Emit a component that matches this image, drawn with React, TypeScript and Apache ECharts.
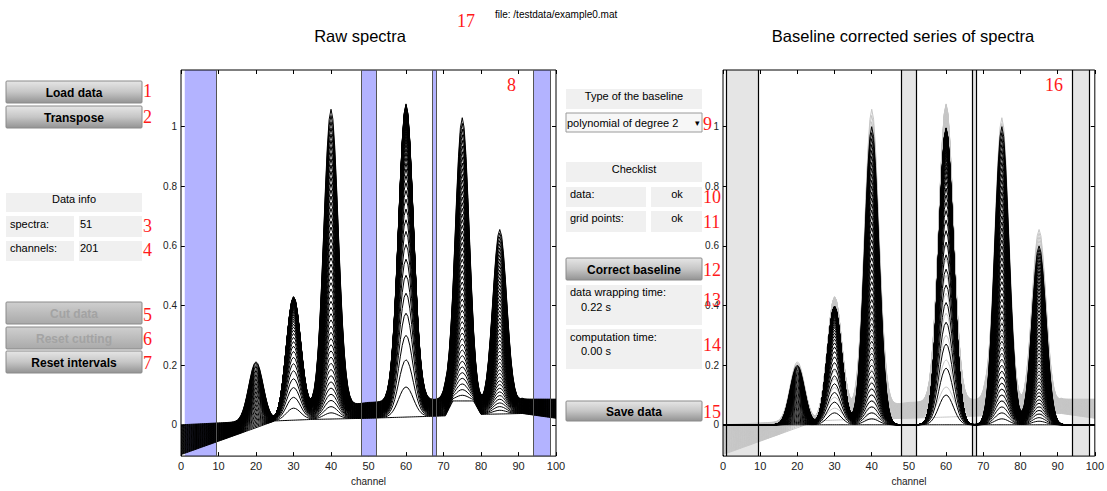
import React, { useEffect, useRef } from "react";
import * as echarts from "echarts";

// ---------- data ----------
const channels: number[] = [];
for (let i = 0; i <= 200; i++) channels.push(i / 2); // 201 channels, 0..100

const peakCenters = [20, 30, 40, 60, 75, 85];
const peakHeights = [0.2, 0.4, 1.0, 1.0, 1.0, 0.6];
const peakSigmas = [1.9, 1.9, 1.9, 1.95, 1.9, 1.85];
const peakProfile = ["lin", "geo", "lin", "geo", "lin", "lin"];

// scaling of each of the 51 spectra (two observed patterns)
const factorsGeo = [
  0, 0.1, 0.19, 0.271, 0.344, 0.41, 0.469, 0.522, 0.57, 0.613, 0.651, 0.686, 0.718,
  0.746, 0.771, 0.794, 0.815, 0.833, 0.85, 0.865, 0.878, 0.891, 0.902, 0.911, 0.92,
  0.928, 0.935, 0.942, 0.948, 0.953, 0.958, 0.962, 0.966, 0.969, 0.972, 0.975, 0.977,
  0.98, 0.982, 0.984, 0.985, 0.987, 0.988, 0.989, 0.99, 0.991, 0.992, 0.993, 0.994,
  0.995, 0.996,
];
const factorsLin = [
  0, 0.02, 0.04, 0.06, 0.08, 0.1, 0.12, 0.14, 0.16, 0.18, 0.2, 0.22, 0.24, 0.26, 0.28,
  0.3, 0.32, 0.34, 0.36, 0.38, 0.4, 0.42, 0.44, 0.46, 0.48, 0.5, 0.52, 0.54, 0.56, 0.58,
  0.6, 0.62, 0.64, 0.66, 0.68, 0.7, 0.72, 0.74, 0.76, 0.78, 0.8, 0.82, 0.84, 0.86, 0.88,
  0.9, 0.92, 0.94, 0.96, 0.98, 1.0,
];

// baseline envelopes of the raw spectra (spectrum with smallest / largest peaks)
const baseKnotsX = [0, 16, 25, 35, 50, 70.5, 72.5, 78, 80, 88, 91, 100];
const baseLow = [-0.1, -0.028, 0.013, 0.018, 0.022, 0.03, 0.08, 0.08, 0.035, 0.037, 0.038, 0.022];
const baseHigh = [0.0, 0.01, 0.013, 0.05, 0.075, 0.086, 0.03, 0.03, 0.055, 0.055, 0.086, 0.086];

// selected grid intervals
const intervals = [
  [1, 9.5],
  [48, 52],
  [67, 68],
  [94, 98.5],
];

const yTicks = [0, 0.2, 0.4, 0.6, 0.8, 1];

// ---------- build spectra ----------
function envelope(vals: number[], x: number) {
  for (let i = 0; i < baseKnotsX.length - 1; i++) {
    const a = baseKnotsX[i], b = baseKnotsX[i + 1];
    if (x >= a && x <= b) return vals[i] + ((vals[i + 1] - vals[i]) * (x - a)) / (b - a);
  }
  return vals[vals.length - 1];
}

const rawSpectra: number[][][] = [];
const corrSpectra: number[][][] = [];
for (let k = 0; k < factorsLin.length; k++) {
  const t = k / (factorsLin.length - 1);
  const raw: number[][] = [];
  const cor: number[][] = [];
  for (const x of channels) {
    let p = 0;
    for (let i = 0; i < peakCenters.length; i++) {
      const f = peakProfile[i] === "geo" ? factorsGeo[k] : factorsLin[k];
      const d = (x - peakCenters[i]) / peakSigmas[i];
      p += peakHeights[i] * f * Math.exp(-0.5 * d * d);
    }
    const lo = envelope(baseLow, x), hi = envelope(baseHigh, x);
    const b = lo + t * (hi - lo);
    cor.push([x, +p.toFixed(5)]);
    raw.push([x, +(p + b).toFixed(5)]);
  }
  rawSpectra.push(raw);
  corrSpectra.push(cor);
}

// ---------- helpers ----------
const SANS = '"Liberation Sans", Arial, Helvetica, sans-serif';

function axesFor(gi: number) {
  const common = {
    gridIndex: gi,
    type: "value" as const,
    splitLine: { show: false },
    axisLine: { show: false, onZero: false },
  };
  const tick = { inside: true, length: 4, lineStyle: { color: "#000" } };
  const xa = [
    {
      ...common,
      min: 0,
      max: 100,
      interval: 10,
      position: "bottom",
      axisTick: tick,
      axisLabel: { fontSize: 11, color: "#222", margin: 4, fontFamily: SANS },
      name: "channel",
      nameLocation: "middle",
      nameGap: 18,
      nameTextStyle: { fontSize: 10, color: "#222", fontFamily: SANS },
    },
    {
      ...common,
      min: 0,
      max: 100,
      interval: 10,
      position: "top",
      axisTick: tick,
      axisLabel: { show: false },
    },
  ];
  const ya = [
    {
      ...common,
      min: -0.105,
      max: 1.19,
      position: "left",
      axisTick: { ...tick, customValues: yTicks },
      axisLabel: {
        customValues: yTicks,
        fontSize: 10,
        color: "#222",
        margin: 4,
        fontFamily: SANS,
        formatter: (v: number) => String(Math.round(v * 10) / 10),
      },
    },
    {
      ...common,
      min: -0.105,
      max: 1.19,
      position: "right",
      axisTick: { ...tick, customValues: yTicks },
      axisLabel: { show: false, customValues: yTicks },
    },
  ];
  return { xa, ya };
}

function bandSeries(gi: number, fill: string, edge: string, edgeW: number, skipFirstEdge: boolean) {
  const lines: any[] = [];
  intervals.forEach((iv, idx) => {
    if (!(skipFirstEdge && idx === 0)) lines.push({ xAxis: iv[0] });
    lines.push({ xAxis: iv[1] });
  });
  return {
    type: "line",
    xAxisIndex: gi * 2,
    yAxisIndex: gi * 2,
    data: [],
    silent: true,
    z: 1,
    markArea: {
      silent: true,
      itemStyle: { color: fill, borderWidth: 0 },
      data: intervals.map((iv) => [{ xAxis: iv[0] }, { xAxis: iv[1] }]),
    },
    markLine: {
      silent: true,
      symbol: ["none", "none"],
      label: { show: false },
      lineStyle: { color: edge, width: edgeW, type: "solid" },
      data: lines,
    },
  };
}

function spectraSeries(gi: number, list: number[][][], color: string, z: number, width: number) {
  return list.map((d) => ({
    type: "line",
    xAxisIndex: gi * 2,
    yAxisIndex: gi * 2,
    data: d,
    showSymbol: false,
    symbol: "none",
    silent: true,
    z,
    lineStyle: { color, width },
  }));
}

function gradButton(x: number, y: number, w: number, h: number, text: string, disabled = false) {
  return {
    type: "group",
    z: 20,
    children: [
      {
        type: "rect",
        shape: { x, y, width: w, height: h, r: 1 },
        style: {
          fill: new echarts.graphic.LinearGradient(0, 0, 0, 1, disabled
            ? [
                { offset: 0, color: "#cfcfcf" },
                { offset: 1, color: "#a9a9a9" },
              ]
            : [
                { offset: 0, color: "#e6e6e6" },
                { offset: 0.5, color: "#c6c6c6" },
                { offset: 1, color: "#939393" },
              ]),
          stroke: "#8a8a8a",
          lineWidth: 1,
        },
      },
      {
        type: "text",
        x: x + w / 2,
        y: y + h / 2 + 0.5,
        style: {
          text,
          font: `bold 12px ${SANS}`,
          fill: disabled ? "#a3a3a3" : "#000",
          align: "center",
          verticalAlign: "middle",
        },
      },
    ],
  };
}

function infoBox(x: number, y: number, w: number, h: number) {
  return { type: "rect", z: 20, shape: { x, y, width: w, height: h }, style: { fill: "#f0f0f0" } };
}

function txt(x: number, y: number, text: string, align = "left", font = `11px ${SANS}`, fill = "#000") {
  return { type: "text", z: 21, x, y, style: { text, font, fill, align, verticalAlign: "middle" } };
}

function redNum(x: number, y: number, text: string) {
  return {
    type: "text",
    z: 30,
    x,
    y,
    style: { text, font: '18px "Liberation Serif", "DejaVu Serif", serif', fill: "#ff1a1a", align: "left", verticalAlign: "middle" },
  };
}

export default function App() {
  const ref = useRef<HTMLDivElement>(null);
  useEffect(() => {
    if (!ref.current) return;
    const chart = echarts.init(ref.current, undefined, { renderer: "svg" });
    const a0 = axesFor(0);
    const a1 = axesFor(1);

    const graphic: any[] = [
      // titles
      txt(360, 36, "Raw spectra", "center", `16.5px ${SANS}`),
      txt(903, 36, "Baseline corrected series of spectra", "center", `16.5px ${SANS}`),
      txt(495, 14, "file: /testdata/example0.mat", "left", `10px ${SANS}`),
      // left panel
      gradButton(6, 81, 136, 22, "Load data"),
      gradButton(6, 106, 136, 22, "Transpose"),
      infoBox(6, 193, 136, 19),
      txt(74, 199, "Data info", "center"),
      infoBox(6, 216, 68, 21),
      infoBox(79, 216, 63, 21),
      txt(10, 224, "spectra:"),
      txt(80, 224, "51"),
      infoBox(6, 241, 68, 20),
      infoBox(79, 241, 63, 20),
      txt(10, 248, "channels:"),
      txt(80, 248, "201"),
      gradButton(6, 302, 136, 22, "Cut data", true),
      gradButton(6, 327, 136, 22, "Reset cutting", true),
      gradButton(6, 351, 136, 22, "Reset intervals"),
      // middle panel
      infoBox(566, 89, 136, 20),
      txt(634, 96, "Type of the baseline", "center"),
      {
        type: "rect",
        z: 20,
        shape: { x: 566, y: 113, width: 136, height: 19 },
        style: { fill: "#f7f7f7", stroke: "#9a9a9a", lineWidth: 1 },
      },
      txt(567, 123, "polynomial of degree 2"),
      txt(697, 123, "▾", "center", `9px ${SANS}`),
      infoBox(566, 162, 136, 20),
      txt(634, 169, "Checklist", "center"),
      infoBox(566, 187, 80, 20),
      infoBox(651, 187, 51, 20),
      txt(570, 194, "data:"),
      txt(677, 194, "ok", "center"),
      infoBox(566, 211, 80, 21),
      infoBox(651, 211, 51, 21),
      txt(570, 218, "grid points:"),
      txt(677, 218, "ok", "center"),
      gradButton(566, 258, 136, 22, "Correct baseline"),
      infoBox(566, 285, 136, 40),
      txt(570, 292, "data wrapping time:"),
      txt(581, 307, "0.22 s"),
      infoBox(566, 329, 136, 40),
      txt(570, 337, "computation time:"),
      txt(581, 351, "0.00 s"),
      gradButton(566, 401, 136, 20, "Save data"),
      // red annotations
      redNum(457, 21, "17"),
      redNum(507, 85, "8"),
      redNum(1045, 85, "16"),
      redNum(143, 91, "1"),
      redNum(143, 117, "2"),
      redNum(143, 226, "3"),
      redNum(143, 250, "4"),
      redNum(143, 315, "5"),
      redNum(143, 339, "6"),
      redNum(143, 363, "7"),
      redNum(703, 124, "9"),
      redNum(703, 197, "10"),
      redNum(703, 222, "11"),
      redNum(703, 270, "12"),
      redNum(703, 300, "13"),
      redNum(703, 345, "14"),
      redNum(703, 412, "15"),
    ];

    chart.setOption({
      animation: false,
      backgroundColor: "#fff",
      grid: [
        { left: 181, top: 70, width: 375, height: 391, show: true, borderColor: "#000", borderWidth: 1, backgroundColor: "transparent", z: 5 },
        { left: 723, top: 70, width: 376, height: 391, show: true, borderColor: "#000", borderWidth: 1, backgroundColor: "transparent", z: 5 },
      ],
      xAxis: [...a0.xa, ...a1.xa],
      yAxis: [...a0.ya, ...a1.ya],
      series: [
        bandSeries(0, "#b3b3ff", "#555", 1, true),
        ...spectraSeries(0, rawSpectra, "#000", 3, 1),
        bandSeries(1, "#e5e5e5", "#000", 1.2, false),
        ...spectraSeries(1, rawSpectra, "#c6c6c6", 2, 1),
        ...spectraSeries(1, corrSpectra, "#000", 3, 1),
      ],
      graphic,
    });
    return () => chart.dispose();
  }, []);
  return (
    <div
      ref={ref}
      style={{ position: "absolute", left: 0, top: 0, width: 1107, height: 491 }}
    />
  );
}
